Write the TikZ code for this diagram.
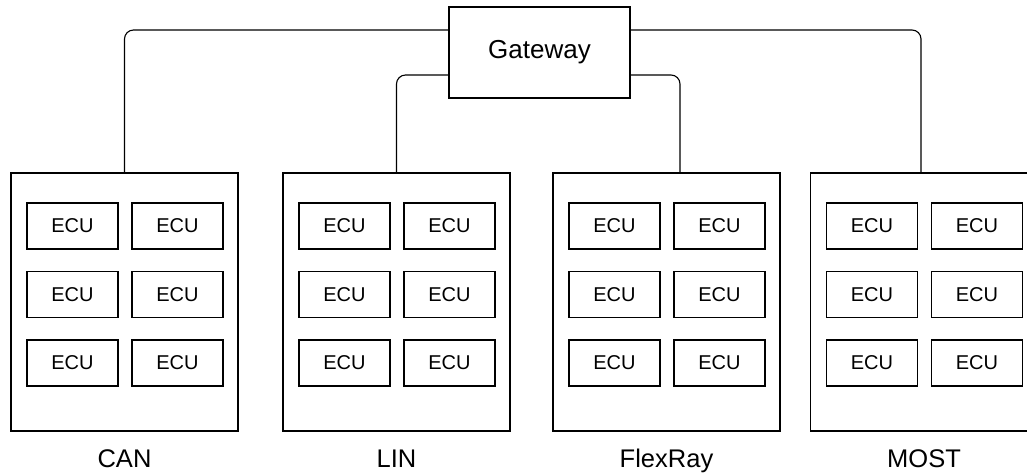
\documentclass[tikz,border=0pt]{standalone}
\usepackage{fontspec}
\setmainfont{Liberation Sans}
\begin{document}
\begin{tikzpicture}[x=1pt,y=-1pt,
  line width=1.15pt,
  busbox/.style={draw, inner sep=0pt, outer sep=0pt,
    minimum width=227pt, minimum height=258pt},
  ecu/.style={draw, inner sep=0pt, outer sep=0pt,
    minimum width=91pt, minimum height=46pt,
    font=\fontsize{20}{24}\selectfont},
  gwbox/.style={draw, inner sep=0pt, outer sep=0pt,
    minimum width=181pt, minimum height=91pt,
    font=\fontsize{26}{31}\selectfont},
  buslabel/.style={font=\fontsize{25.5}{30}\selectfont, inner sep=0pt, anchor=base},
  wire/.style={draw, rounded corners=9pt}]

\path[use as bounding box] (0,0) rectangle (1027,476);
\clip (0,0) rectangle (1027,476);

% gateway
\node[gwbox] (gw) at (539.5,52.5) {Gateway};

% bus segments with their ECUs
\foreach \name/\cx/\lbl in {can/124.5/CAN, lin/396.5/LIN, flex/666.5/FlexRay, most/924/MOST}{
  \node[busbox] (\name) at (\cx,302) {};
  \foreach \r/\ry in {1/226, 2/294.5, 3/363}{
    \node[ecu] (\name-\r a) at (\cx-52,\ry) {ECU};
    \node[ecu] (\name-\r b) at (\cx+53,\ry) {ECU};
  }
  \node[buslabel] (\name-label) at (\cx,467) {\lbl};
}

% links from the gateway to each bus
\draw[wire] ([yshift=-23pt]gw.north west) -| (can.north);
\draw[wire] ([yshift=-68pt]gw.north west) -| (lin.north);
\draw[wire] ([yshift=-68pt]gw.north east) -| ([xshift=13.5pt]flex.north);
\draw[wire] ([yshift=-23pt]gw.north east) -| ([xshift=-3pt]most.north);
\end{tikzpicture}
\end{document}
